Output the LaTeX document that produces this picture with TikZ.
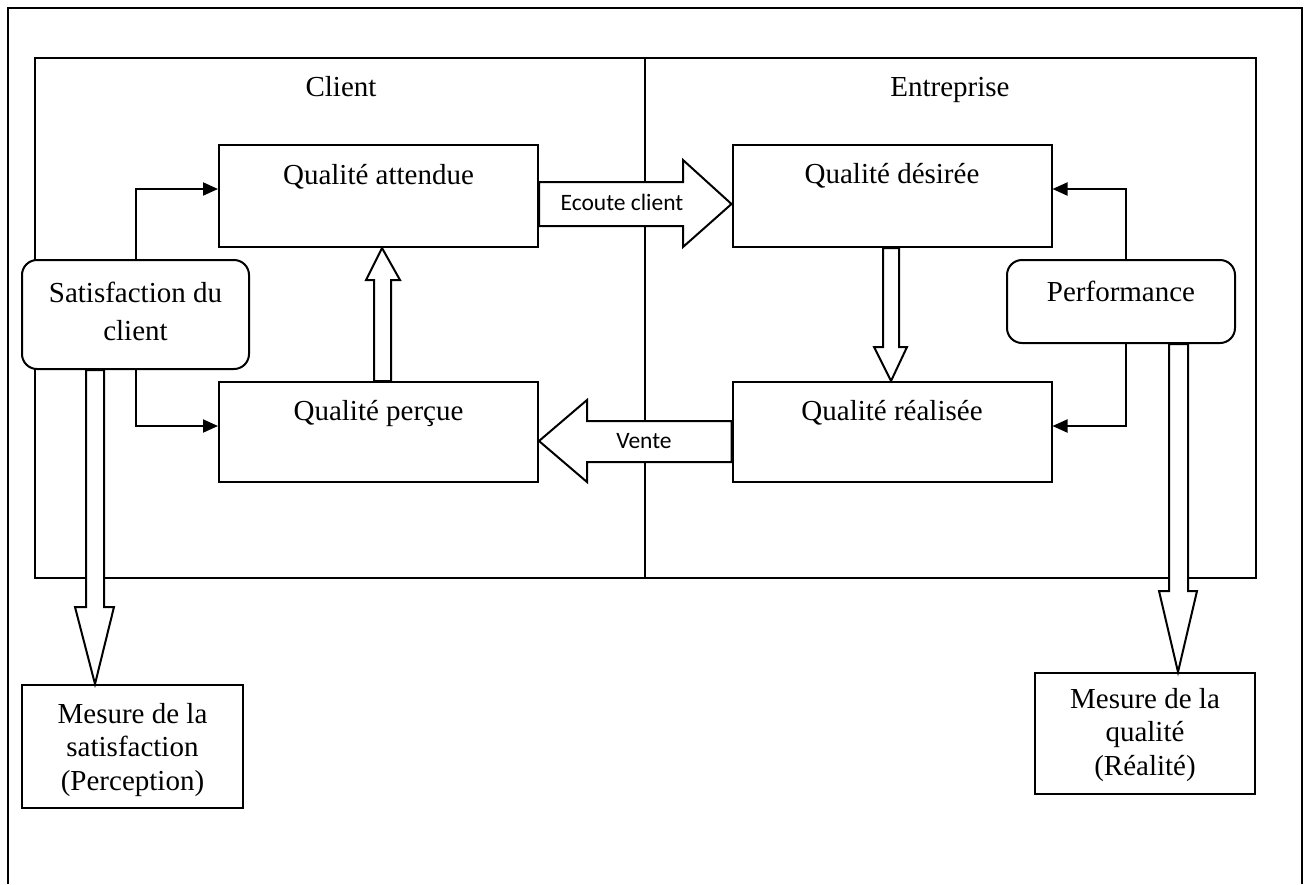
\documentclass[tikz,border=0pt]{standalone}
\usepackage{fontspec}
\setmainfont{Liberation Serif}
\newfontfamily\labelfont{Carlito}
\usetikzlibrary{arrows.meta,calc}

\tikzset{
  frame/.style={line width=2pt},
  qbox/.style={draw, fill=white, line width=2pt, minimum width=319pt, inner sep=0pt},
  rbox/.style={draw, fill=white, line width=2pt, rounded corners=15pt, inner sep=0pt},
  mbox/.style={draw, fill=white, line width=2pt, minimum width=221pt, inner sep=0pt},
  txt/.style={inner sep=0pt, font=\fontsize{29pt}{34pt}\selectfont},
  mtxt/.style={inner sep=0pt, align=center, anchor=north, font=\fontsize{29pt}{33.5pt}\selectfont},
  arrtxt/.style={inner sep=0pt, anchor=base, font=\labelfont\fontsize{23.5pt}{28pt}\selectfont},
  conn/.style={line width=2pt, -{Triangle[length=15pt,width=13pt]}},
  blk/.style={draw, fill=white, line width=2pt, line join=miter},
}

\begin{document}
\begin{tikzpicture}[x=1pt, y=-1pt]
\useasboundingbox (0,0) rectangle (1308,884);

% outer page frame (open at the bottom)
\draw[frame] (8,884) -- (8,8) -- (1302,8) -- (1302,884);

% client / enterprise panel
\draw[frame] (35,58) rectangle (1256,578);
\draw[frame] (645,58) -- (645,578);
\node[txt, anchor=base] (client) at (341,96) {Client};
\node[txt, anchor=base] (entreprise) at (950,96) {Entreprise};

% quality boxes
\node[qbox, minimum height=102pt] (qa) at (378.5,196) {};
\node[txt, anchor=base] (qa-t) at (378.5,184) {Qualité attendue};
\node[qbox, minimum height=102pt] (qd) at (892,196) {};
\node[txt, anchor=base] (qd-t) at (892,183) {Qualité désirée};
\node[qbox, minimum height=100pt] (qp) at (378.5,432) {};
\node[txt, anchor=base] (qp-t) at (378.5,420) {Qualité perçue};
\node[qbox, minimum height=100pt] (qr) at (892,432) {};
\node[txt, anchor=base] (qr-t) at (892,420) {Qualité réalisée};

% satisfaction and performance
\node[rbox, minimum width=227pt, minimum height=109pt] (sat) at (135.5,314.5) {};
\node[mtxt, font=\fontsize{29pt}{38pt}\selectfont] (sat-t) at (135.5,282) {Satisfaction du\\client};
\node[rbox, minimum width=228pt, minimum height=83pt] (pf) at (1121,301.5) {};
\node[txt, anchor=base] (pf-t) at (1121,301) {Performance};

% measurement boxes
\node[mbox, minimum height=123pt] (ms) at (132.5,746.5) {};
\node[mtxt] (ms-t) at (132.5,703) {Mesure de la\\satisfaction\\(Perception)};
\node[mbox, minimum width=220pt, minimum height=121pt] (mq) at (1145,733.5) {};
\node[mtxt] (mq-t) at (1145,688) {Mesure de la\\qualité\\(Réalité)};

% thin connectors
\draw[conn] (sat.north) |- ($(qa.west)+(0,-7)$);
\draw[conn] (sat.south) |- ($(qp.west)+(0,-6)$);
\draw[conn] ($(pf.north)+(5,0)$) |- ($(qd.east)+(0,-7)$);
\draw[conn] ($(pf.south)+(5,0)$) |- ($(qr.east)+(0,-6)$);

% block arrows
\draw[blk] (qa.east |- 0,182) -- (683,182) -- (683,160) -- (qd.west |- 0,204)
  -- (683,247) -- (683,226) -- (qa.east |- 0,226) -- cycle;
\node[arrtxt] (ecoute) at (622,210) {Ecoute client};

\draw[blk] (qr.west |- 0,421) -- (587,421) -- (587,400) -- (qp.east |- 0,441)
  -- (587,482) -- (587,462) -- (qr.west |- 0,462) -- cycle;
\node[arrtxt] (vente) at (644,448) {Vente};

\draw[blk] (374,0 |- qp.north) -- (374,280) -- (366,280) -- (382,0 |- qa.south)
  -- (400,280) -- (391,280) -- (391,0 |- qp.north) -- cycle;

\draw[blk] (883,0 |- qd.south) -- (883,347) -- (874,347) -- (891,0 |- qr.north)
  -- (907,347) -- (899,347) -- (899,0 |- qd.south) -- cycle;

\draw[blk] (86,0 |- sat.south) -- (86,607) -- (75,607) -- (95,0 |- ms.north)
  -- (114,607) -- (104,607) -- (104,0 |- sat.south) -- cycle;

\draw[blk] (1169,0 |- pf.south) -- (1169,591) -- (1159,591) -- (1178,0 |- mq.north)
  -- (1197,591) -- (1188,591) -- (1188,0 |- pf.south) -- cycle;
\end{tikzpicture}
\end{document}
